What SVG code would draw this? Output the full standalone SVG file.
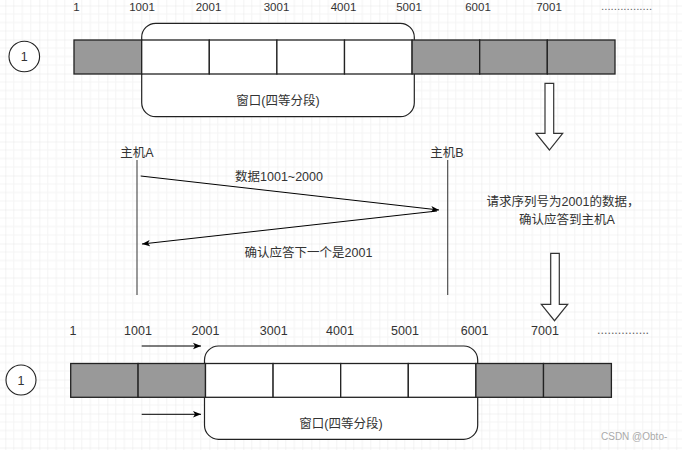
<svg xmlns="http://www.w3.org/2000/svg" width="682" height="450" viewBox="0 0 682 450">
<defs>
<pattern id="grid" x="5.3" y="5.5" width="34" height="34" patternUnits="userSpaceOnUse">
<rect x="8" y="0" width="1" height="34" fill="#f4f4f4"/>
<rect x="16.5" y="0" width="1" height="34" fill="#f4f4f4"/>
<rect x="25" y="0" width="1" height="34" fill="#f4f4f4"/>
<rect x="0" y="8" width="34" height="1" fill="#f4f4f4"/>
<rect x="0" y="16.5" width="34" height="1" fill="#f4f4f4"/>
<rect x="0" y="25" width="34" height="1" fill="#f4f4f4"/>
<rect x="-0.5" y="0" width="1" height="34" fill="#e6e6e6"/>
<rect x="0" y="-0.5" width="34" height="1" fill="#e6e6e6"/>
</pattern>
<marker id="arr" viewBox="0 0 10 10" refX="10" refY="5" markerWidth="8" markerHeight="8" markerUnits="userSpaceOnUse" orient="auto">
<path d="M0,1 L10,5 L0,9 L2.5,5 Z" fill="#000"/>
</marker>
<style>
.t{font-family:"Liberation Sans","Noto Sans CJK SC",sans-serif;fill:#333}
.num{font-size:11.5px;text-anchor:middle}
.num2{font-size:12.5px;text-anchor:middle}
.cn{font-size:12.5px}
.g{fill:#999999;stroke:#222;stroke-width:1.3}
.w{fill:#ffffff;stroke:#222;stroke-width:1.3}
.win{fill:#ffffff;stroke:#222;stroke-width:1.2}
.circ{fill:#ffffff;stroke:#222;stroke-width:1.1}
.blk{fill:#ffffff;stroke:#333;stroke-width:1.2}
.life{stroke:#444;stroke-width:1.1;fill:none}
.msg{stroke:#000;stroke-width:1;fill:none}
.dots{font-size:11.5px;fill:#666}
</style>
</defs>
<rect width="682" height="450" fill="#ffffff"/>
<rect width="682" height="450" fill="url(#grid)"/>

<!-- top labels -->
<g id="top-labels">
<text class="t num" x="76.5" y="11">1</text>
<text class="t num" x="142" y="11">1001</text>
<text class="t num" x="208.5" y="11">2001</text>
<text class="t num" x="276.5" y="11">3001</text>
<text class="t num" x="343.5" y="11">4001</text>
<text class="t num" x="409" y="11">5001</text>
<text class="t num" x="478" y="11">6001</text>
<text class="t num" x="549" y="11">7001</text>
<text class="t dots" x="601" y="10">................</text>
</g>

<g id="top-circle">
<circle class="circ" cx="24.3" cy="56.5" r="15.3"/>
<text class="t num2" x="24.3" y="61">1</text>
</g>

<g id="top-window">
<rect class="win" x="141.7" y="23.3" width="272.6" height="93.4" rx="14" ry="14"/>
<text class="t cn" x="278" y="105" text-anchor="middle">窗口(四等分段)</text>
</g>

<g id="top-cells">
<rect class="g" x="74" y="40" width="67.7" height="34"/>
<rect class="w" x="141.7" y="40" width="67.6" height="34"/>
<rect class="w" x="209.3" y="40" width="67.6" height="34"/>
<rect class="w" x="276.9" y="40" width="67.6" height="34"/>
<rect class="w" x="344.5" y="40" width="67.6" height="34"/>
<rect class="g" x="412.1" y="40" width="67.6" height="34"/>
<rect class="g" x="479.7" y="40" width="67.6" height="34"/>
<rect class="g" x="547.3" y="40" width="67.7" height="34"/>
</g>

<g id="block-arrow-1">
<path class="blk" d="M545,83.3 L553.7,83.3 L553.7,133.3 L562.7,133.3 L549.4,150 L536,133.3 L545,133.3 Z"/>
</g>

<g id="hostA">
<text class="t cn" x="137" y="157" text-anchor="middle">主机A</text>
<line class="life" x1="137" y1="160" x2="137" y2="295"/>
</g>
<g id="hostB">
<text class="t cn" x="447" y="157" text-anchor="middle">主机B</text>
<line class="life" x1="447.7" y1="160" x2="447.7" y2="295"/>
</g>

<g id="note">
<text class="t cn" x="563" y="206" text-anchor="middle">请求序列号为2001的数据，</text>
<text class="t cn" x="567" y="223.5" text-anchor="middle">确认应答到主机A</text>
</g>

<g id="block-arrow-2">
<path class="blk" d="M550.7,253.3 L559.3,253.3 L559.3,304.3 L567.7,304.3 L554.5,320.7 L541.3,304.3 L550.7,304.3 Z"/>
</g>

<!-- bottom labels -->
<g id="bottom-labels">
<text class="t num2" x="73" y="335">1</text>
<text class="t num2" x="138" y="335">1001</text>
<text class="t num2" x="205.5" y="335">2001</text>
<text class="t num2" x="273.7" y="335">3001</text>
<text class="t num2" x="340" y="335">4001</text>
<text class="t num2" x="405" y="335">5001</text>
<text class="t num2" x="474.6" y="335">6001</text>
<text class="t num2" x="545" y="335">7001</text>
<text class="t dots" x="597" y="334" style="font-size:12.5px">...............</text>
</g>

<g id="bottom-circle">
<circle class="circ" cx="21" cy="380" r="15"/>
<text class="t num2" x="21" y="384.5">1</text>
</g>

<g id="bottom-window">
<rect class="win" x="204.5" y="346" width="273.2" height="93.3" rx="14" ry="14"/>
<text class="t cn" x="341" y="428" text-anchor="middle">窗口(四等分段)</text>
</g>

<g id="bottom-cells">
<rect class="g" x="70.7" y="363.5" width="67.4" height="33.8"/>
<rect class="g" x="138.1" y="363.5" width="67.4" height="33.8"/>
<rect class="w" x="205.5" y="363.5" width="67.6" height="33.8"/>
<rect class="w" x="273.1" y="363.5" width="67.6" height="33.8"/>
<rect class="w" x="340.7" y="363.5" width="67.6" height="33.8"/>
<rect class="w" x="408.3" y="363.5" width="67.6" height="33.8"/>
<rect class="g" x="475.9" y="363.5" width="67.6" height="33.8"/>
<rect class="g" x="543.5" y="363.5" width="67.9" height="33.8"/>
</g>

<g id="connectors">
<line class="msg" x1="140.7" y1="176" x2="439" y2="210" marker-end="url(#arr)"/>
<text class="t cn" x="279" y="181" text-anchor="middle">数据1001~2000</text>
<line class="msg" x1="437" y1="211" x2="142" y2="244" marker-end="url(#arr)"/>
<text class="t cn" x="308.5" y="257" text-anchor="middle">确认应答下一个是2001</text>
<line class="msg" x1="141.7" y1="346" x2="201" y2="346" marker-end="url(#arr)"/>
<line class="msg" x1="141.7" y1="414.3" x2="201" y2="414.3" marker-end="url(#arr)"/>
</g>

<text x="601" y="440" style="font-family:'Liberation Sans',sans-serif;font-size:10px;fill:#aaaaaa">CSDN @Obto-</text>
</svg>
